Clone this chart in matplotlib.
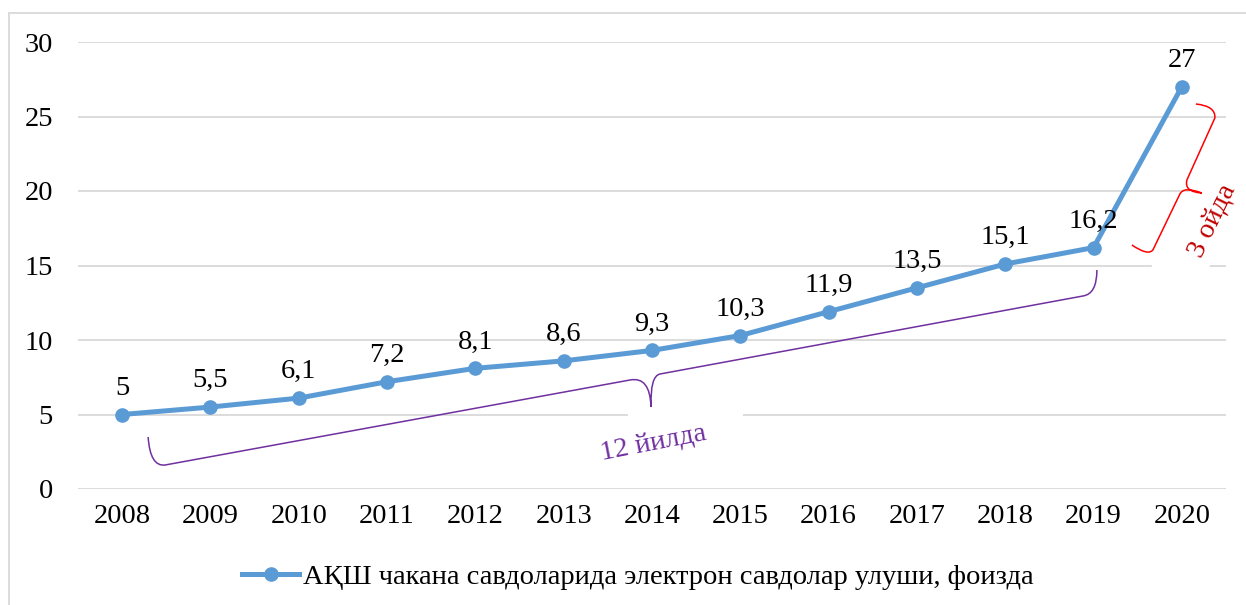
"""US e-commerce share of retail sales, 2008-2020 (line chart with braces)."""
import matplotlib

matplotlib.use("Agg")
import matplotlib.pyplot as plt
from matplotlib.path import Path
from matplotlib.patches import PathPatch, Polygon
from matplotlib.lines import Line2D

years = ["2008", "2009", "2010", "2011", "2012", "2013", "2014",
         "2015", "2016", "2017", "2018", "2019", "2020"]
share = [5, 5.5, 6.1, 7.2, 8.1, 8.6, 9.3, 10.3, 11.9, 13.5, 15.1, 16.2, 27]
series_name = "АҚШ чакана савдоларида электрон савдолар улуши, фоизда"
note_12 = "12 йилда"
note_3 = "3 ойда"

plt.rcParams["font.family"] = ["Liberation Serif", "DejaVu Serif"]
FS = 20.5
BLUE = "#5b9bd5"
GRID = "#d9d9d9"

W, H = 1246, 605
fig = plt.figure(figsize=(W / 100, H / 100), dpi=100)
ax = fig.add_axes([78 / W, 1 - 489 / H, (1226 - 78) / W, (489 - 42) / H])

x = list(range(len(years)))
ax.plot(x, share, color=BLUE, lw=3.6, marker="o", ms=9.5, zorder=3,
        solid_capstyle="round")
for xi, v in zip(x, share):
    ax.annotate(f"{v:g}".replace(".", ","), (xi, v), xytext=(0, 10),
                textcoords="offset points", ha="center", va="bottom",
                fontsize=FS, zorder=4)

ax.set_xlim(-0.5, len(years) - 0.5)
ax.set_ylim(0, 30)
ax.set_yticks(range(0, 31, 5))
ax.set_xticks(x)
ax.set_xticklabels(years)
ax.tick_params(length=0, labelsize=FS)
ax.tick_params(axis="y", pad=18)
ax.tick_params(axis="x", pad=11)
ax.yaxis.grid(True, color=GRID, lw=1.3)
ax.set_axisbelow(True)
for s in ax.spines.values():
    s.set_visible(False)


# annotation shapes are placed in image pixels, mapped to data coords
def px(a, b):
    return ((a - 122) / 88.33, (489 - b) / 14.9)


def brace(pts, codes, color):
    verts = [px(*p) for p in pts]
    ax.add_patch(PathPatch(Path(verts, codes), fc="none", ec=color, lw=1.1,
                           zorder=2.5, clip_on=False))


def blank(pts):
    # white text-box fill that hides the gridlines behind a note
    ax.add_patch(Polygon([px(*p) for p in pts], closed=True, fc="white",
                         ec="none", zorder=1, clip_on=False))


blank([(628, 409), (743, 409), (743, 470), (628, 470)])
blank([(1198, 175), (1260, 175), (1202, 280), (1145, 280)])

M, L, C = Path.MOVETO, Path.LINETO, Path.CURVE3
brace([(148, 437), (150, 467), (165, 465), (630, 380), (650, 376), (651, 407),
       (651, 407), (650, 376), (660, 374), (1083, 296), (1097, 294), (1097, 270)],
      [M, C, C, L, C, C, M, C, C, L, C, C], "#7030a0")
brace([(1196, 104), (1216, 106), (1215, 118), (1187, 180), (1184, 192), (1202, 193),
       (1202, 193), (1184, 186), (1180, 194), (1153, 250), (1148, 256), (1132, 245)],
      [M, C, C, L, C, C, M, C, C, L, C, C], "#ff0000")

ax.text(*px(653, 443), note_12, color="#7030a0", fontsize=FS, rotation=11,
        ha="center", va="center", rotation_mode="anchor", zorder=4)
ax.text(*px(1212, 221), note_3, color="#c00000", fontsize=FS, rotation=64,
        ha="center", va="center", rotation_mode="anchor", zorder=4)

handle = Line2D([], [], color=BLUE, lw=3.6, marker="o", ms=9.5)
fig.legend([handle], [series_name], loc="center", bbox_to_anchor=(638 / W, 1 - 577 / H),
           frameon=False, fontsize=FS, handlelength=2.0, handletextpad=0.15)

# chart frame
fig.add_artist(Line2D([9 / W, 9 / W], [0, 1 - 13 / H], color=GRID, lw=1.3))
fig.add_artist(Line2D([9 / W, 1], [1 - 13 / H, 1 - 13 / H], color=GRID, lw=1.3))

fig.savefig("out.png", dpi=100)
